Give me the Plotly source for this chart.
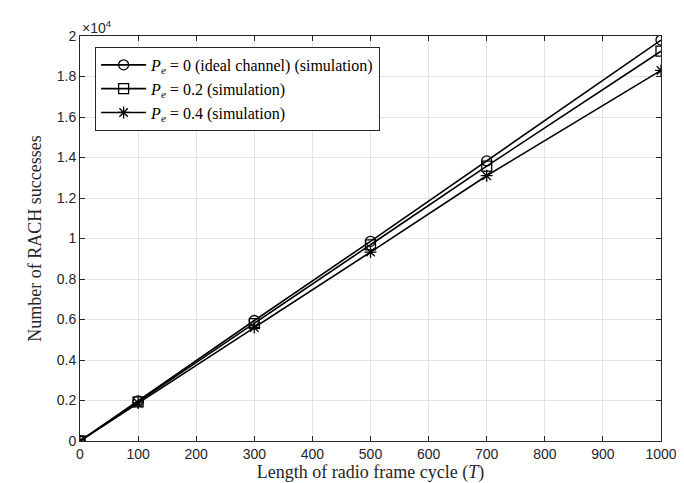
import plotly.graph_objects as go

x_vals = [0, 100, 300, 500, 700, 1000]
pe0_vals = [0, 1980, 5950, 9860, 13830, 19800]
pe02_vals = [0, 1930, 5800, 9690, 13570, 19250]
pe04_vals = [0, 1880, 5600, 9330, 13100, 18300]

series_names = [
    "<i>P</i><sub><i>e</i></sub> = 0 (ideal channel) (simulation)",
    "<i>P</i><sub><i>e</i></sub> = 0.2 (simulation)",
    "<i>P</i><sub><i>e</i></sub> = 0.4 (simulation)",
]
symbols = ["circle-open", "square-open", "asterisk-open"]

x_ticks = [0, 100, 200, 300, 400, 500, 600, 700, 800, 900, 1000]
y_ticks = [0, 2000, 4000, 6000, 8000, 10000, 12000, 14000, 16000, 18000, 20000]
y_tick_labels = ["0", "0.2", "0.4", "0.6", "0.8", "1", "1.2", "1.4", "1.6", "1.8", "2"]

fig = go.Figure()
for name, ys, sym in zip(series_names, [pe0_vals, pe02_vals, pe04_vals], symbols):
    fig.add_trace(go.Scatter(
        x=x_vals, y=ys, mode="lines+markers", name=name,
        line=dict(color="black", width=1.6),
        marker=dict(symbol=sym, size=10, color="black", line=dict(width=1.3, color="black")),
    ))

axis_common = dict(
    showline=True, linecolor="#262626", linewidth=1, mirror="ticks",
    ticks="inside", ticklen=5, tickcolor="#262626",
    showgrid=True, gridcolor="#e3e3e3", gridwidth=1, zeroline=False,
    automargin=False,
    tickfont=dict(family="Liberation Sans, Arial", size=14, color="#262626"),
)

fig.update_layout(
    width=684, height=483,
    margin=dict(l=72, r=31, t=28, b=50),
    paper_bgcolor="white", plot_bgcolor="white",
    xaxis=dict(range=[0, 1000], tickvals=x_ticks, **axis_common,
               title=dict(text="Length of radio frame cycle (<i>T</i>)",
                          font=dict(family="Liberation Serif, Times New Roman", size=18, color="#262626"),
                          standoff=2)),
    yaxis=dict(range=[0, 20000], tickvals=y_ticks, ticktext=y_tick_labels, **axis_common,
               title=dict(text="Number of RACH successes",
                          font=dict(family="Liberation Serif, Times New Roman", size=18, color="#262626"),
                          standoff=10)),
    legend=dict(
        x=0.026, y=0.973, xanchor="left", yanchor="top",
        bgcolor="white", bordercolor="#262626", borderwidth=1,
        font=dict(family="Liberation Serif, Times New Roman", size=16, color="black"),
        tracegroupgap=0, itemwidth=45,
    ),
    showlegend=True,
)

fig.add_annotation(
    xref="paper", yref="paper", x=0.0, y=1.0, xanchor="left", yanchor="bottom",
    text="×10<sup>4</sup>", showarrow=False,
    font=dict(family="Liberation Sans, Arial", size=14, color="#262626"),
    xshift=0, yshift=-2,
)

fig.write_html("out.html")
